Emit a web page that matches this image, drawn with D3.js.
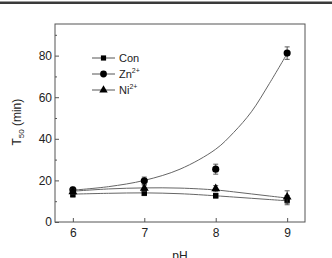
<!DOCTYPE html>
<html>
<head>
<meta charset="utf-8">
<script src="https://cdn.jsdelivr.net/npm/d3@7"></script>
<style>
  body { margin: 0; background: #fff; }
  text { font-family: "Liberation Sans", Arial, sans-serif; fill: #222; }
</style>
</head>
<body>
<script>
let width = 332;
let height = 258;

// measured points (pH, T50, error)
const phValues = [6, 7, 8, 9];
const conValues = [13.2, 13.9, 12.6, 10.5];
const conErr = [1.2, 1.2, 1, 2.2];
const znValues = [15.5, 19.8, 25.4, 81.2];
const znErr = [1.2, 1.8, 2.4, 3];
const niValues = [14.6, 16.2, 16, 12];
const niErr = [1.2, 1.5, 1.5, 3];

// fitted curves
const fitPh = [6, 6.5, 7, 7.5, 8, 8.25, 8.5, 8.75, 9];
const conFit = [13.4, 13.8, 14, 13.6, 12.6, 12, 11.4, 10.8, 10.2];
const znFit = [15.3, 17, 20, 25.4, 35, 43, 53, 66.5, 81];
const niFit = [14.8, 15.9, 16.4, 16.3, 15.4, 14.5, 13.5, 12.5, 11.5];

const yTicks = [0, 20, 40, 60, 80];
const yMinor = [10, 30, 50, 70, 90];

const margin = { left: 55, right: 27, top: 24, bottom: 36 };

const svg = d3.select('body')
  .append('svg')
  .attr('width', width)
  .attr('height', height);

// dark rule across the top
svg.append('rect')
  .attr('x', 0).attr('y', 1.5)
  .attr('width', width).attr('height', 2.5)
  .attr('fill', '#3a3a3a');

let x = d3.scaleLinear().domain([5.75, 9.25]).range([margin.left, width - margin.right]);
let y = d3.scaleLinear().domain([0, 95.2]).range([height - margin.bottom, margin.top]);

// frame
svg.append('rect')
  .attr('x', x(5.75)).attr('y', y(95.2))
  .attr('width', x(9.25) - x(5.75))
  .attr('height', y(0) - y(95.2))
  .attr('fill', 'none')
  .attr('stroke', '#555')
  .attr('stroke-width', 1);

// axes, ticks pointing inward
svg.append('g')
  .attr('transform', 'translate(0,' + y(0) + ')')
  .call(d3.axisBottom(x).tickValues(phValues).tickSizeInner(-4).tickSizeOuter(0).tickPadding(6).tickFormat(d3.format('d')));
svg.append('g')
  .attr('transform', 'translate(' + x(5.75) + ',0)')
  .call(d3.axisLeft(y).tickValues(yTicks).tickSizeInner(-4).tickSizeOuter(0).tickPadding(3));
svg.append('g')
  .attr('transform', 'translate(' + x(5.75) + ',0)')
  .call(d3.axisLeft(y).tickValues(yMinor).tickSizeInner(-2).tickSizeOuter(0).tickFormat(''));
svg.selectAll('.domain').remove();
svg.selectAll('.tick line').attr('stroke', '#555');
svg.selectAll('.tick text').style('font-size', '12px').attr('fill', '#222');

// axis titles
svg.append('text')
  .attr('x', x(7.5)).attr('y', 260)
  .attr('text-anchor', 'middle')
  .style('font-size', '12px')
  .text('pH');

const yt = svg.append('text')
  .attr('transform', 'translate(21,' + y(48) + ') rotate(-90)')
  .attr('text-anchor', 'middle')
  .style('font-size', '12px');
yt.append('tspan').text('T');
yt.append('tspan').attr('dy', 3).style('font-size', '8px').text('50');
yt.append('tspan').attr('dy', -3).text(' (min)');

// fitted curves
const line = d3.line()
  .x(function(d) { return x(d[0]); })
  .y(function(d) { return y(d[1]); })
  .curve(d3.curveCatmullRom);

[conFit, znFit, niFit].forEach(function(fit) {
  svg.append('path')
    .datum(fitPh.map(function(p, i) { return [p, fit[i]]; }))
    .attr('d', line)
    .attr('fill', 'none')
    .attr('stroke', '#666')
    .attr('stroke-width', 1);
});

const series = [
  { name: 'Con', vals: conValues, err: conErr, shape: d3.symbolSquare, size: 30 },
  { name: 'Zn', sup: '2+', vals: znValues, err: znErr, shape: d3.symbolCircle, size: 40 },
  { name: 'Ni', sup: '2+', vals: niValues, err: niErr, shape: d3.symbolTriangle, size: 34 }
];

series.forEach(function(s) {
  const g = svg.append('g');
  // error bars
  phValues.forEach(function(p, i) {
    const top = y(s.vals[i] + s.err[i]);
    const bot = y(s.vals[i] - s.err[i]);
    g.append('line').attr('x1', x(p)).attr('x2', x(p)).attr('y1', top).attr('y2', bot)
      .attr('stroke', '#333').attr('stroke-width', 0.8);
    [top, bot].forEach(function(yy) {
      g.append('line').attr('x1', x(p) - 2.5).attr('x2', x(p) + 2.5).attr('y1', yy).attr('y2', yy)
        .attr('stroke', '#333').attr('stroke-width', 0.8);
    });
  });
  g.selectAll('path.pt').data(s.vals)
    .enter().append('path')
      .attr('class', 'pt')
      .attr('transform', function(d, i) { return 'translate(' + x(phValues[i]) + ',' + y(d) + ')'; })
      .attr('d', d3.symbol().type(s.shape).size(s.size))
      .attr('fill', '#000');
});

// legend
const legend = svg.append('g');
series.forEach(function(s, i) {
  const ly = 58 + i * 16;
  legend.append('line').attr('x1', 92).attr('x2', 115).attr('y1', ly).attr('y2', ly)
    .attr('stroke', '#555').attr('stroke-width', 1);
  legend.append('path')
    .attr('transform', 'translate(103.5,' + ly + ')')
    .attr('d', d3.symbol().type(s.shape).size(s.size * 0.9))
    .attr('fill', '#000');
  const t = legend.append('text').attr('x', 119).attr('y', ly + 4).style('font-size', '11px');
  t.append('tspan').text(s.name);
  if (s.sup) t.append('tspan').attr('dy', -5).style('font-size', '7px').text(s.sup);
});
</script>
</body>
</html>
